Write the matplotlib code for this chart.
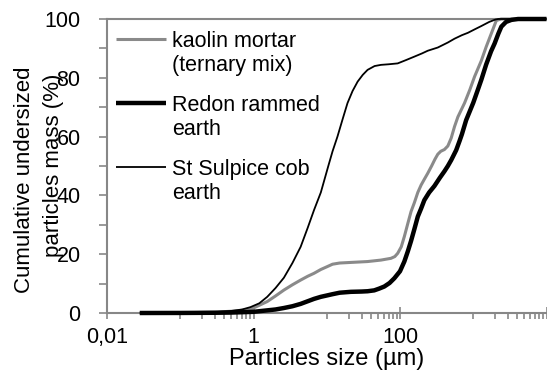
import matplotlib
matplotlib.use("Agg")
import matplotlib.pyplot as plt
from matplotlib.lines import Line2D
from matplotlib.ticker import FixedLocator, NullFormatter

plt.rcParams['font.family'] = ['Liberation Sans', 'DejaVu Sans']

# ---- data ----
kaolin_size = [0.028, 0.1, 0.3, 0.5, 0.7, 0.91, 1.0, 1.54, 2.0, 2.6, 3.4, 4.4, 5.5, 6.7, 8.3,
               10.2, 12, 15, 21.3, 36.1, 55, 75.3, 85, 93, 104, 114.6, 128, 141.5, 157, 175,
               194, 215, 239, 270, 300, 328, 360, 404, 450, 500, 555, 617, 760, 900, 1042,
               1200, 1288, 1500, 1766, 2066, 2400, 10000]
kaolin_pct = [0, 0.05, 0.3, 0.6, 0.9, 1.3, 1.7, 3.9, 5.8, 7.8, 9.6, 11.2, 12.5, 13.5, 14.8,
              15.8, 16.6, 17.0, 17.2, 17.5, 18.0, 18.6, 19.2, 20.3, 22.5, 26.0, 30.5, 34.5, 37.5, 41.0,
              43.5, 45.5, 47.5, 50.0, 52.3, 54.0, 55.0, 55.6, 56.8, 59.5, 63.4, 66.7, 71.4, 76.0, 80.4,
              84.0, 85.8, 90.5, 95.1, 99.5, 100, 100]

redon_size = [0.028, 0.1, 0.3, 0.5, 1.0, 1.54, 2.0, 2.6, 3.4, 4.4, 5.5, 6.7, 8.3, 10.2, 12, 15,
              21.3, 30, 36.1, 44.5, 52, 61, 72, 83.6, 100, 114.6, 128, 141.5, 157, 175, 194,
              215, 250, 295, 350, 404, 450, 500, 585, 650, 700, 800, 1000, 1158, 1288, 1500,
              1750, 1959, 2200, 2420, 2800, 3320, 4094, 10000]
redon_pct = [0, 0.02, 0.08, 0.15, 0.4, 0.9, 1.2, 1.7, 2.3, 3.1, 4.0, 4.8, 5.5, 6.0, 6.4, 6.9,
             7.2, 7.3, 7.4, 7.7, 8.3, 9.0, 10.2, 11.8, 14.2, 17.5, 21.0, 24.5, 28.5, 32.8, 35.5,
             38.4, 41.0, 43.2, 46.0, 48.2, 50.0, 52.0, 55.4, 58.5, 60.8, 65.6, 71.5, 76.0, 79.3, 84.5,
             89.0, 91.7, 95.0, 97.4, 99.0, 99.7, 100, 100]

sulpice_size = [0.028, 0.1, 0.3, 0.5, 0.7, 0.91, 1.2, 1.54, 2.0, 2.6, 3.4, 4.4, 5.5, 6.7, 8.3,
                10.5, 12, 14, 16.5, 19.2, 22.5, 26.4, 31, 36.1, 45, 55, 70, 93, 120, 157, 200,
                239, 328, 450, 555, 700, 845, 1050, 1288, 1650, 2000, 2200, 10000]
sulpice_pct = [0, 0.05, 0.3, 0.7, 1.2, 2.0, 3.3, 5.5, 8.5, 12.0, 17.0, 22.5, 29.0, 35.0, 41.0,
               50.0, 55.0, 60.0, 66.0, 71.4, 75.5, 78.7, 81.0, 82.7, 84.0, 84.4, 84.6, 84.9, 86.0, 87.2, 88.3,
               89.2, 90.3, 92.0, 93.3, 94.5, 95.3, 96.5, 97.6, 99.0, 99.8, 100, 100]

series_labels = [["kaolin mortar", "(ternary mix)"],
                 ["Redon rammed", "earth"],
                 ["St Sulpice cob", "earth"]]
x_tick_values = [0.01, 1, 100, 10000]
x_tick_labels = ["0,01", "1", "100", ""]
y_tick_values = [0, 20, 40, 60, 80, 100]
x_label = "Particles size (\u00b5m)"
y_label_lines = ["Cumulative undersized", "particles mass (%)"]

# ---- figure ----
W, H = 547, 380
fig = plt.figure(figsize=(W / 100, H / 100), dpi=100)

def fx(px):
    return px / W

def fy(py):
    return 1 - py / H

ax = fig.add_axes([fx(107), fy(313), fx(546.5) - fx(107), fy(19) - fy(313)])

axis_gray = '#878787'
gray_series = '#8a8a8a'

ax.axhline(100, color=axis_gray, lw=1.5, zorder=1, clip_on=False)

styles = [dict(color=gray_series, lw=2.2),
          dict(color='black', lw=3.2),
          dict(color='black', lw=1.3)]
ax.plot(kaolin_size, kaolin_pct, **styles[0], zorder=3, clip_on=False, solid_capstyle='butt')
ax.plot(redon_size, redon_pct, **styles[1], zorder=4, clip_on=False, solid_capstyle='butt')
ax.plot(sulpice_size, sulpice_pct, **styles[2], zorder=5, clip_on=False, solid_capstyle='butt')

ax.set_xscale('log')
ax.set_xlim(0.01, 10000)
ax.set_ylim(0, 100)

ax.xaxis.set_major_locator(FixedLocator(x_tick_values))
ax.set_xticklabels(x_tick_labels)
minor_x = [k * 0.1 for k in range(1, 10)] + [k * 10 for k in range(1, 10)] + [k * 1000 for k in range(1, 10)]
ax.xaxis.set_minor_locator(FixedLocator(minor_x))
ax.xaxis.set_minor_formatter(NullFormatter())

ax.yaxis.set_major_locator(FixedLocator(y_tick_values))
ax.yaxis.set_minor_locator(FixedLocator([10, 30, 50, 70, 90]))

for s in ['top', 'right']:
    ax.spines[s].set_visible(False)
for s in ['left', 'bottom']:
    ax.spines[s].set_color(axis_gray)
    ax.spines[s].set_linewidth(1.5)

ax.tick_params(axis='x', which='major', direction='inout', length=8, width=1.2,
               color=axis_gray, labelsize=15.5, pad=6)
ax.tick_params(axis='x', which='minor', direction='out', length=4, width=1.2, color=axis_gray)
ax.tick_params(axis='y', which='both', direction='out', length=6, width=1.2,
               color=axis_gray, labelsize=15.5, pad=13)
ax.tick_params(axis='y', which='minor', length=6)

ax.set_xlabel(x_label, fontsize=17, labelpad=0)

# y label (two centred rotated lines)
fig.text(fx(25), fy(180), y_label_lines[0], rotation=90, ha='center', va='center', fontsize=16)
fig.text(fx(54), fy(165), y_label_lines[1], rotation=90, ha='center', va='center', fontsize=16)

# legend (manual)
handle_y = [39, 103, 167]
for (lab, st, hy) in zip(series_labels, styles, handle_y):
    fig.add_artist(Line2D([fx(116), fx(166)], [fy(hy), fy(hy)], transform=fig.transFigure,
                          color=st['color'], lw=st['lw'], solid_capstyle='butt'))
    fig.text(fx(172), fy(hy + 8), lab[0], ha='left', va='baseline', fontsize=15.5)
    fig.text(fx(172), fy(hy + 32), lab[1], ha='left', va='baseline', fontsize=15.5)

fig.savefig('out.png', dpi=100)
